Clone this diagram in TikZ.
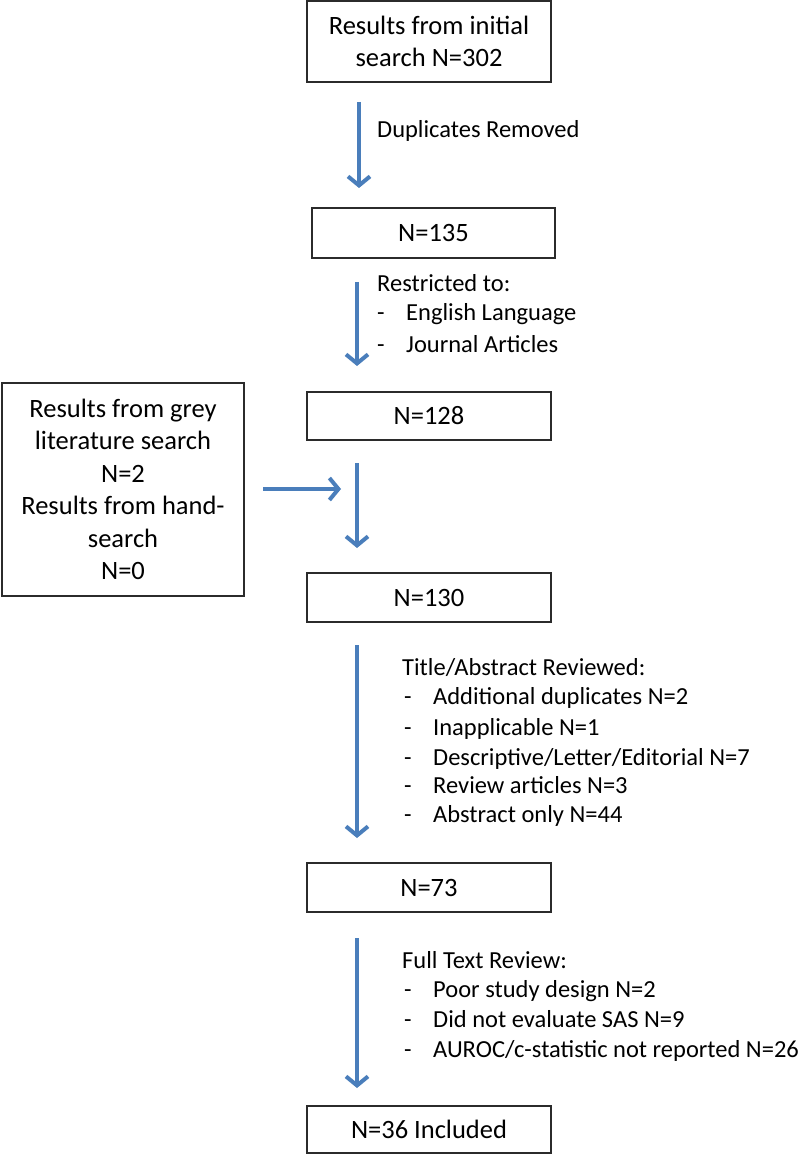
\documentclass[tikz,border=0pt]{standalone}
\usepackage{fontspec}
\setmainfont{Carlito}
\usetikzlibrary{arrows.meta}
\definecolor{arrblue}{HTML}{4A7EBB}
\definecolor{boxline}{HTML}{2B2B2B}
\tikzset{
  x=1pt, y=-1pt,
  every node/.style={text=black},
  box/.style={draw=boxline, line width=1.3pt, inner sep=0pt, align=center, font=\fontsize{26.5}{32.5}\selectfont},
  arr/.style={draw=arrblue, line width=4pt, -{Straight Barb[length=9pt,width=22pt,line width=4pt]}},
  lbl/.style={anchor=base west, inner sep=0pt, font=\fontsize{24.5}{30}\selectfont},
}
\newcommand{\dsh}[1][29pt]{\makebox[#1][l]{-}}
\begin{document}
\begin{tikzpicture}
\useasboundingbox (0,0) rectangle (800,1155);
% boxes
\node[box, minimum width=244pt, minimum height=81pt] (b1) at (429,41.5) {Results from initial\\search N=302};
\node[box, minimum width=243pt, minimum height=50pt] (b2) at (433.5,233) {N=135};
\node[box, minimum width=244pt, minimum height=48pt] (b3) at (429,416) {N=128};
\node[box, minimum width=242pt, minimum height=213pt] (lb) at (123,489.5) {Results from grey\\literature search\\N=2\\Results from hand-\\search\\N=0};
\node[box, minimum width=244pt, minimum height=49pt] (b4) at (429,597.5) {N=130};
\node[box, minimum width=244pt, minimum height=49pt] (b5) at (429,887.5) {N=73};
\node[box, minimum width=244pt, minimum height=47pt] (b6) at (429,1129.5) {N=36 Included};
% arrow end points
\coordinate (a1s) at (359,102); \coordinate (a1e) at (359,188);
\coordinate (a2s) at (357,282); \coordinate (a2e) at (357,366);
\coordinate (a3s) at (357,463); \coordinate (a3e) at (357,548);
\coordinate (hs) at (263,489);  \coordinate (he) at (341,489);
\coordinate (a4s) at (357,645); \coordinate (a4e) at (357,838);
\coordinate (a5s) at (357,938); \coordinate (a5e) at (357,1088);
\draw[arr] (a1s) -- (a1e);
\draw[arr] (a2s) -- (a2e);
\draw[arr] (a3s) -- (a3e);
\draw[arr] (hs) -- (he);
\draw[arr] (a4s) -- (a4e);
\draw[arr] (a5s) -- (a5e);
% labels
\node[lbl] (l1) at (377,138) {Duplicates Removed};
\node[lbl] (l2) at (377,291) {Restricted to:};
\node[lbl] (l2a) at (377,320) {\dsh English Language};
\node[lbl] (l2b) at (377,352) {\dsh Journal Articles};
\node[lbl] (l4) at (402,675) {Title/Abstract Reviewed:};
\node[lbl] (l4a) at (404,704) {\dsh[29pt]Additional duplicates N=2};
\node[lbl] (l4b) at (404,735) {\dsh[29pt]Inapplicable N=1};
\node[lbl] (l4c) at (404,765) {\dsh[29pt]Descriptive/Letter/Editorial N=7};
\node[lbl] (l4d) at (404,793) {\dsh[29pt]Review articles N=3};
\node[lbl] (l4e) at (404,822) {\dsh[29pt]Abstract only N=44};
\node[lbl] (l5) at (402,968) {Full Text Review:};
\node[lbl] (l5a) at (404,997) {\dsh[29pt]Poor study design N=2};
\node[lbl] (l5b) at (404,1027) {\dsh[29pt]Did not evaluate SAS N=9};
\node[lbl] (l5c) at (404,1057) {\dsh[29pt]AUROC/c-statistic not reported N=26};
\end{tikzpicture}
\end{document}
